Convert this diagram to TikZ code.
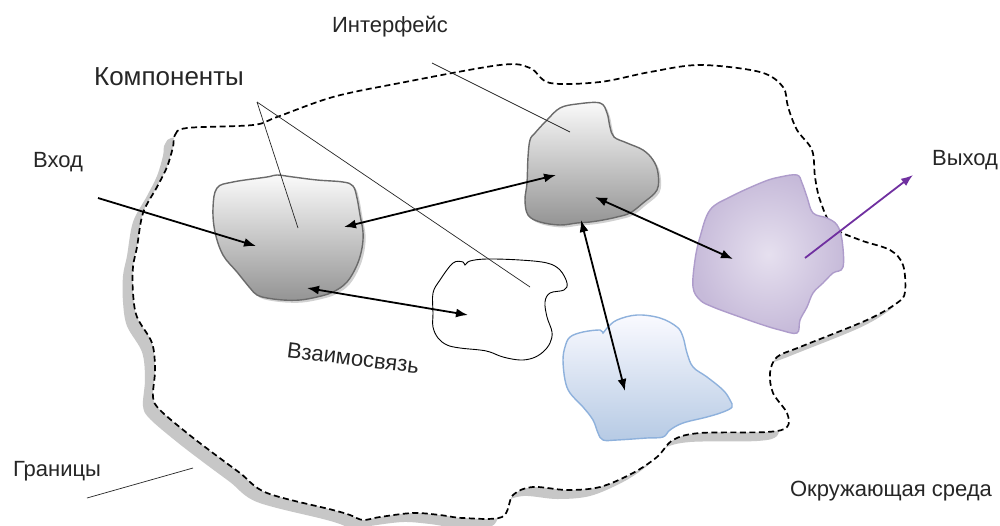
\documentclass[tikz,border=0pt]{standalone}
\usepackage{fontspec}
\setmainfont{Liberation Sans}
\usetikzlibrary{arrows.meta,shadows}

\tikzset{
  lbl/.style={font=\fontsize{22}{26}\selectfont, text=black!85, inner sep=0pt},
  boundary/.style={draw=black, line width=1.7pt, dash pattern=on 6pt off 3.5pt, fill=white,
    drop shadow={shadow xshift=-10pt, shadow yshift=-9pt, fill=black!22, opacity=1}},
  greyblob/.style={draw=black!58, line width=1.4pt, top color=black!2, bottom color=black!42,
    drop shadow={shadow xshift=2.5pt, shadow yshift=-2.5pt, fill=black, opacity=0.18}},
  whiteblob/.style={draw=black, line width=0.9pt, fill=white},
  blueblob/.style={draw=bluedge, line width=1.4pt, top color=blue!2!white, bottom color=bluebot},
  violetblob/.style={draw=viedge, line width=1.4pt, inner color=vicenter, outer color=viouter},
  link/.style={line width=1.8pt, {Latex[length=12pt,width=9pt]}-{Latex[length=12pt,width=9pt]}},
  flow/.style={line width=1.8pt, -{Latex[length=12pt,width=9pt]}},
  pointer/.style={line width=0.7pt, black!85},
}
\definecolor{bluedge}{HTML}{8EB1DC}
\definecolor{bluebot}{HTML}{B6CAE4}
\definecolor{viedge}{HTML}{AE9CCB}
\definecolor{vicenter}{HTML}{E6E0EF}
\definecolor{viouter}{HTML}{C6BAD9}
\definecolor{outarrow}{HTML}{7030A0}

\begin{document}
\begin{tikzpicture}[x=1pt, y=-1pt]
\useasboundingbox (0,0) rectangle (1000,525);
\fill[white] (0,0) rectangle (1000,525);

% system boundary
\path[boundary] plot[smooth cycle, tension=0.55] coordinates {
  (173,147) (175,135) (187,128) (253,125) (277,117) (333,97) (400,83) (500,65)
  (530,68) (550,83) (600,82) (650,72) (700,65) (760,72) (783,87) (788,107)
  (797,130) (812,150) (815,177) (820,200) (833,227) (860,240) (890,250)
  (903,265) (905,292) (897,303) (867,320) (800,347) (777,357) (770,373)
  (773,393) (787,413) (787,427) (767,432) (700,433) (673,440) (657,457)
  (633,473) (600,487) (567,490) (533,487) (513,495) (502,517) (463,518)
  (440,515) (413,513) (380,517) (363,520) (350,515) (333,510) (267,493)
  (240,473) (213,453) (187,433) (160,410) (153,397) (155,370) (152,343)
  (137,317) (133,293) (133,267) (137,247) (143,213) (157,187) (167,167)};

% components
\path[greyblob] plot[smooth cycle, tension=0.6] coordinates {
  (217,188) (233,182) (267,177) (277,175) (293,177) (317,180) (343,182)
  (353,186) (357,198) (360,215) (363,232) (362,248) (357,265) (347,282)
  (333,292) (317,297) (300,300) (283,300) (267,298) (257,295) (250,288)
  (237,272) (223,255) (215,232) (213,208)};
\path[greyblob] plot[smooth cycle, tension=0.6] coordinates {
  (535,133) (547,120) (560,108) (577,104) (600,103) (607,113) (610,127)
  (614,137) (627,143) (643,150) (653,160) (658,173) (657,190) (643,203)
  (630,213) (617,217) (603,220) (590,222) (577,223) (560,225) (540,222)
  (528,215) (525,200) (527,183) (528,157) (530,140)};
\path[whiteblob] plot[smooth cycle, tension=0.6] coordinates {
  (453,263) (463,262) (465,265) (470,261) (487,259) (520,260) (547,263)
  (560,270) (567,283) (564,290) (550,293) (545,302) (547,317) (552,332)
  (550,343) (543,352) (533,358) (520,360) (503,357) (490,352) (480,350)
  (460,348) (447,345) (438,338) (433,327) (433,313) (433,293) (440,280)};
\path[violetblob] plot[smooth cycle, tension=0.6] coordinates {
  (710,210) (730,197) (763,182) (780,177) (797,175) (802,183) (807,197)
  (813,213) (827,218) (837,225) (842,240) (843,267) (833,273) (823,283)
  (813,293) (807,307) (800,320) (797,333) (780,330) (763,325) (740,317)
  (713,307) (700,300) (693,287) (695,260) (700,237)};
\path[blueblob] plot[smooth cycle, tension=0.6] coordinates {
  (570,337) (583,332) (600,330) (603,333) (607,328) (617,320) (637,315)
  (660,318) (677,327) (683,337) (687,353) (693,367) (707,377) (723,390)
  (730,400) (732,407) (723,412) (707,417) (683,423) (670,430) (663,437)
  (647,438) (617,440) (603,440) (598,433) (593,420) (583,407) (570,393)
  (565,380) (563,360) (565,347)};

% labels
\node[lbl] (interface) at (390,27) {Интерфейс};
\node[lbl, font=\fontsize{26}{30}\selectfont] (components) at (169,77) {Компоненты};
\node[lbl] (input) at (58,162) {Вход};
\node[lbl] (output) at (965,160) {Выход};
\node[lbl, rotate=-7] (relation) at (353,358) {Взаимосвязь};
\node[lbl] (borders) at (57,471) {Границы};
\node[lbl] (environment) at (891,491) {Окружающая среда};

% connector end points
\coordinate (inStart) at (98,198);
\coordinate (aIn) at (256,246);
\coordinate (aToB) at (344,227);
\coordinate (bToA) at (556,175);
\coordinate (aToC) at (307,288);
\coordinate (cToA) at (468,315);
\coordinate (bToD) at (595,197);
\coordinate (dToB) at (733,259);
\coordinate (bToE) at (581,220);
\coordinate (eToB) at (625,391);
\coordinate (dOut) at (805,258);
\coordinate (outEnd) at (913,175);
\coordinate (compTip) at (257,102);
\coordinate (compA) at (298,228);
\coordinate (compC) at (530,287);
\coordinate (ifStart) at (432,63);
\coordinate (ifB) at (570,132);
\coordinate (bdStart) at (87,498);
\coordinate (bdEnd) at (193,468);

% interactions
\draw[flow] (inStart) -- (aIn);
\draw[link] (aToB) -- (bToA);
\draw[link] (aToC) -- (cToA);
\draw[link] (bToD) -- (dToB);
\draw[link] (bToE) -- (eToB);
\draw[flow, outarrow] (dOut) -- (outEnd);

% callout lines
\draw[pointer] (compTip) -- (compA);
\draw[pointer] (compTip) -- (compC);
\draw[pointer] (ifStart) -- (ifB);
\draw[pointer] (bdStart) -- (bdEnd);
\end{tikzpicture}
\end{document}
